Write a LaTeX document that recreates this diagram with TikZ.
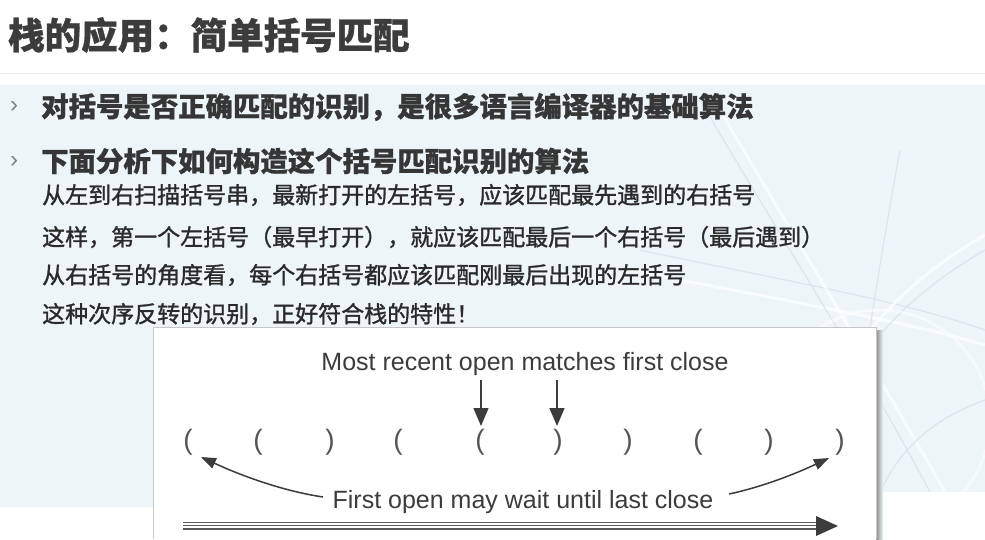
\documentclass[tikz,border=0pt]{standalone}
\usepackage{fontspec}
\setmainfont{Liberation Sans}
\newfontfamily\cjk{Noto Sans CJK SC}[BoldFeatures={FakeBold=0.9}]
\newfontfamily\cjksub{Noto Sans CJK SC}[FakeBold=1.3]
\usetikzlibrary{arrows.meta}

\definecolor{titlec}{HTML}{3C3C3C}
\definecolor{bodyc}{HTML}{363636}
\definecolor{subc}{HTML}{2A2A2A}
\definecolor{bgblue}{HTML}{EEF5F9}
\definecolor{figc}{HTML}{3C3C3C}
\definecolor{parenc}{HTML}{555555}
\definecolor{decoc}{HTML}{DDE5EA}

\begin{document}
\begin{tikzpicture}[x=1pt,y=-1pt,
  titletext/.style={anchor=west,inner sep=0,text=titlec,font=\cjk\bfseries\fontsize{36.5}{37}\selectfont},
  bullettext/.style={anchor=west,inner sep=0,text=bodyc,font=\cjk\bfseries\fontsize{27.4}{28}\selectfont},
  marker/.style={inner sep=0,text=gray,font=\fontsize{24}{24}\selectfont},
  subline/.style={anchor=west,inner sep=0,text=subc,font=\cjksub\fontsize{23}{24}\selectfont},
  paren/.style={inner sep=0,text=parenc,font=\fontsize{28}{28}\selectfont},
  figlabel/.style={inner sep=0,text=figc,font=\fontsize{25}{25}\selectfont},
  downarr/.style={-{Triangle[length=18pt,width=15pt]}, line width=1.5pt, draw=figc},
  curvearr/.style={-{Triangle[length=15pt,width=11pt]}, line width=1.5pt, draw=figc},
  shaft/.style={line width=1.3pt, draw=figc!85},
  deco/.style={draw=white,line width=3pt,opacity=0.7},
  decothin/.style={draw=decoc,line width=1.2pt}
]
\useasboundingbox (0,0) rectangle (985,539);
\fill[white] (0,0) rectangle (985,539);

% background panel
\fill[bgblue] (0,85) rectangle (985,492);
\fill[bgblue] (0,492) rectangle (153,507);
\draw[decoc!70, line width=1pt] (0,73) -- (985,73);

% faint decorative strokes in the background
\begin{scope}
\clip (600,85) rectangle (985,492);
\draw[decothin] (640,250) .. controls (780,280) and (900,300) .. (985,330);
\draw[deco] (630,270) .. controls (780,300) and (900,320) .. (985,345);
\draw[decothin] (700,100) .. controls (770,220) and (860,360) .. (930,492);
\draw[deco] (720,110) .. controls (790,230) and (870,360) .. (945,492);
\draw[decothin] (985,250) .. controls (900,300) and (840,360) .. (800,492);
\draw[deco] (985,235) .. controls (890,290) and (830,360) .. (790,492);
\draw[decothin] (900,150) .. controls (880,260) and (860,380) .. (850,492);
\draw[decothin] (985,400) .. controls (930,420) and (900,450) .. (880,492);
\draw[deco,opacity=0.5] (880,420) circle (110);
\end{scope}

% title
\node[titletext] (title) at (8,35) {栈的应用：简单括号匹配};

% bullets
\node[marker] (m1) at (14,107) {›};
\node[bullettext] (b1) at (41,107) {对括号是否正确匹配的识别，是很多语言编译器的基础算法};
\node[marker] (m2) at (14,162) {›};
\node[bullettext] (b2) at (41,161) {下面分析下如何构造这个括号匹配识别的算法};

% sub lines
\node[subline] (s1) at (42,195) {从左到右扫描括号串，最新打开的左括号，应该匹配最先遇到的右括号};
\node[subline] (s2) at (42,237) {这样，第一个左括号（最早打开），就应该匹配最后一个右括号（最后遇到）};
\node[subline] (s3) at (42,275) {从右括号的角度看，每个右括号都应该匹配刚最后出现的左括号};
\node[subline] (s4) at (42,314) {这种次序反转的识别，正好符合栈的特性！};

% figure box with shadow
\shade[left color=black!45, right color=bgblue] (876,330) rectangle (883,539);
\fill[white] (153,327) rectangle (876,539);
\draw[black!22, line width=0.8pt] (153,539) -- (153,327) -- (876,327) -- (876,539);

% labels
\node[figlabel] (top) at (525,364) {Most recent open matches first close};
\node[figlabel] (bot) at (523,502) {First open may wait until last close};

% parentheses
\node[paren] (p1) at (188,442) {(};
\node[paren] (p2) at (258,442) {(};
\node[paren] (p3) at (330,442) {)};
\node[paren] (p4) at (398,442) {(};
\node[paren] (p5) at (480,442) {(};
\node[paren] (p6) at (558,442) {)};
\node[paren] (p7) at (628,442) {)};
\node[paren] (p8) at (698,442) {(};
\node[paren] (p9) at (769,442) {)};
\node[paren] (p10) at (840,442) {)};

% down arrows
\coordinate (d1s) at (481,380);
\coordinate (d1e) at (481,426);
\coordinate (d2s) at (557,380);
\coordinate (d2e) at (557,426);
\draw[downarr] (d1s) -- (d1e);
\draw[downarr] (d2s) -- (d2e);

% curved arrows
\coordinate (ls) at (323,497);
\coordinate (lt) at (201,457);
\coordinate (rs) at (729,494);
\coordinate (rt) at (829,458);
\draw[curvearr] (ls) .. controls (283,491) and (242,476) .. (lt);
\draw[curvearr] (rs) .. controls (762,487) and (795,474) .. (rt);

% triple-line arrow at the bottom
\coordinate (sa) at (183,522.5);
\coordinate (sb) at (819,522.5);
\coordinate (sc) at (183,525.8);
\coordinate (sd) at (819,525.8);
\coordinate (se) at (183,529.1);
\coordinate (sf) at (819,529.1);
\draw[shaft] (sa) -- (sb);
\draw[shaft] (sc) -- (sd);
\draw[shaft] (se) -- (sf);
\coordinate (ha) at (816,516);
\coordinate (hb) at (838,526);
\coordinate (hc) at (816,536);
\fill[figc] (ha) -- (hb) -- (hc) -- cycle;
\end{tikzpicture}
\end{document}
